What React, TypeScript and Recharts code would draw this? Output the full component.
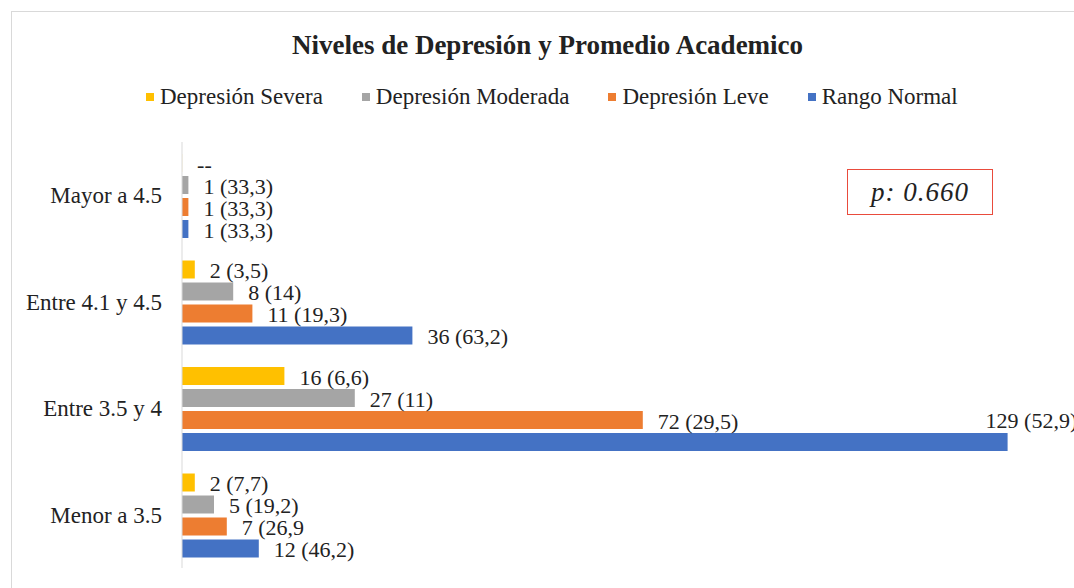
import { BarChart, Bar, XAxis, YAxis, LabelList } from "recharts";

const categories = ["Mayor a 4.5", "Entre 4.1 y 4.5", "Entre 3.5 y 4", "Menor a 3.5"];

const severa = [0, 2, 16, 2];
const moderada = [1, 8, 27, 5];
const leve = [1, 11, 72, 7];
const normal = [1, 36, 129, 12];

const severaLabels = ["--", "2 (3,5)", "16 (6,6)", "2 (7,7)"];
const moderadaLabels = ["1 (33,3)", "8 (14)", "27 (11)", "5 (19,2)"];
const leveLabels = ["1 (33,3)", "11 (19,3)", "72 (29,5)", "7 (26,9"];
const normalLabels = ["1 (33,3)", "36 (63,2)", "129 (52,9)", "12 (46,2)"];

const seriesNames = ["Depresión Severa", "Depresión Moderada", "Depresión Leve", "Rango Normal"];
const seriesColors = ["#FFC000", "#A5A5A5", "#ED7D31", "#4472C4"];

const title = "Niveles de Depresión y Promedio Academico";
const pValue = "p: 0.660";

const data = categories.map((name, i) => ({
  name,
  severa: severa[i],
  moderada: moderada[i],
  leve: leve[i],
  normal: normal[i],
  severaLabel: severaLabels[i],
  moderadaLabel: moderadaLabels[i],
  leveLabel: leveLabels[i],
  normalLabel: normalLabels[i],
}));

const keys = ["severa", "moderada", "leve", "normal"];

const font = "'Liberation Serif', 'Times New Roman', serif";
const textColor = "#222";

// label to the right of the bar; long bars get it lifted above the bar end
const renderLabel = (props: any) => {
  const vb = props.viewBox || props;
  const x = Number(vb.x) || 0;
  const y = Number(vb.y) || 0;
  const w = Number(vb.width) || 0;
  const h = Number(vb.height) || 0;
  const end = x + w;
  const lifted = end > 950;
  return (
    <text
      x={lifted ? end - 22 : end + 15}
      y={lifted ? y - 13 : y + h / 2 + 1}
      dy="0.35em"
      fill={textColor}
      fontSize={22}
      fontFamily={font}
    >
      {props.value}
    </text>
  );
};

export default function App() {
  return (
    <div
      style={{
        position: "absolute",
        left: 0,
        top: 0,
        width: 1074,
        height: 588,
        overflow: "hidden",
        background: "#fff",
        fontFamily: font,
        color: textColor,
      }}
    >
      {/* chart frame */}
      <div
        style={{
          position: "absolute",
          left: 11,
          top: 11,
          width: 1100,
          height: 620,
          border: "1.5px solid #d9d9d9",
        }}
      />

      <div
        style={{
          position: "absolute",
          left: 0,
          top: 30,
          width: 1095,
          textAlign: "center",
          fontWeight: "bold",
          fontSize: 27,
          lineHeight: "30px",
        }}
      >
        {title}
      </div>

      <div
        style={{
          position: "absolute",
          left: 146,
          top: 85,
          display: "flex",
          alignItems: "center",
          gap: 39,
          fontSize: 23,
          lineHeight: "24px",
        }}
      >
        {seriesNames.map((n, i) => (
          <div key={n} style={{ display: "flex", alignItems: "center" }}>
            <span
              style={{
                display: "inline-block",
                width: 8,
                height: 8,
                background: seriesColors[i],
                marginRight: 6,
              }}
            />
            <span>{n}</span>
          </div>
        ))}
      </div>

      <div style={{ position: "absolute", left: 0, top: 0 }}>
        <BarChart
          width={1100}
          height={588}
          data={data}
          layout="vertical"
          margin={{ top: 142, right: 22, bottom: 20, left: 0 }}
          barCategoryGap={12}
          barGap={4}
        >
          <XAxis type="number" domain={[0, 140]} hide />
          <YAxis
            type="category"
            dataKey="name"
            width={182}
            axisLine={{ stroke: "#d9d9d9" }}
            tickLine={false}
            tickSize={0}
            tickMargin={20}
            tick={{ fill: textColor, fontSize: 23, fontFamily: font }}
          />
          {keys.map((k, i) => (
            <Bar
              key={k}
              dataKey={k}
              name={seriesNames[i]}
              fill={seriesColors[i]}
              minPointSize={0.1}
              isAnimationActive={false}
            >
              <LabelList dataKey={k + "Label"} content={renderLabel} />
            </Bar>
          ))}
        </BarChart>
      </div>

      <div
        style={{
          position: "absolute",
          left: 847,
          top: 169,
          width: 146,
          height: 46,
          boxSizing: "border-box",
          border: "1.5px solid #E94B3C",
          display: "flex",
          alignItems: "center",
          justifyContent: "center",
          fontStyle: "italic",
          fontSize: 27,
          letterSpacing: 1,
        }}
      >
        {pValue}
      </div>
    </div>
  );
}
